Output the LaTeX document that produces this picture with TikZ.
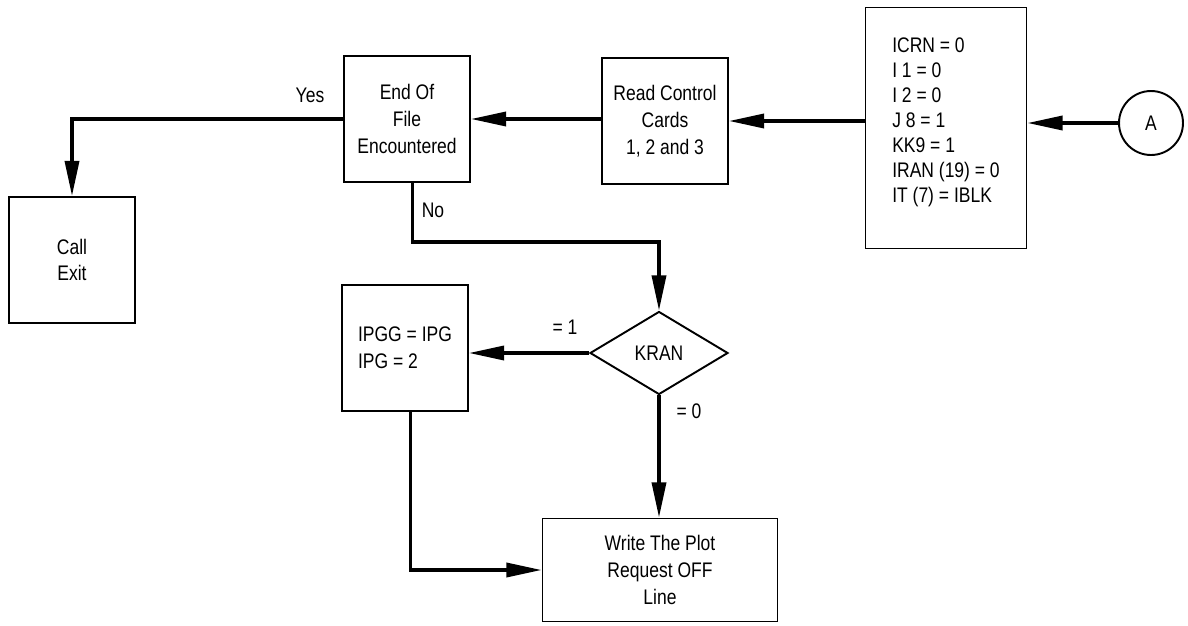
\documentclass[tikz,border=0pt]{standalone}
\usepackage{fontspec}
\setmainfont{Liberation Sans}[FakeStretch=0.83]
\usetikzlibrary{arrows.meta,positioning,shapes.geometric}

\begin{document}
\begin{tikzpicture}[
  x=0.02cm, y=-0.02cm,
  b/.style={draw, line width=1.1pt, align=center, minimum width=2.52cm, minimum height=2.52cm, inner sep=2pt, font=\fontsize{12}{15.2}\selectfont},
  e/.style={-{Triangle[length=20pt, width=8pt]}, line width=1.9pt},
  l/.style={font=\fontsize{12}{14}\selectfont, inner sep=1pt}
]
\useasboundingbox (0,0) rectangle (1188,626);

\node[b] (eof) at (407,119) {End Of\\File\\Encountered};
\node[b] (read) at (665,121) {Read Control\\Cards\\1, 2 and 3};
\node[b, minimum width=3.22cm, minimum height=4.82cm, align=left, font=\fontsize{12}{14.2}\selectfont] (init) at (946,128) {ICRN = 0\\I 1 = 0\\I 2 = 0\\J 8 = 1\\KK9 = 1\\IRAN (19) = 0\\IT (7) = IBLK\\[-5pt]};
\node[circle, draw, line width=1.1pt, minimum size=1.28cm, l] (a) at (1151,123) {A};

\node[b] (exit) at (72,260) {Call\\Exit};
\node[diamond, draw, line width=1.1pt, minimum width=2.76cm, minimum height=1.66cm, inner sep=0pt, l] (kran) at (659,353) {KRAN};
\node[b, align=left] (ipgg) at (405,348) {IPGG = IPG\\IPG = 2};
\node[b, minimum width=4.7cm, minimum height=2.06cm] (write) at (660,570) {Write The Plot\\Request OFF\\Line};

% branch labels
\node[l] (yes) at (310,95) {Yes};
\node[l] (no) at (433,210) {No};
\node[l] (one) at (565,327) {= 1};
\node[l] (zero) at (689,411) {= 0};

\draw[e] (a.west) -- (a -| init.east);
\draw[e] (read -| init.west) -- (read.east);
\draw[e] (read.west |- eof) -- (eof.east);
\draw[e] (eof.west) -| (exit.north);
\draw[e] ([xshift=3pt]eof.south) -- ++(0,59) -| (kran.north);
\draw[e] (kran.west) -- (kran -| ipgg.east);
\draw[e] (kran.south) -- (kran.south |- write.north);
\draw[e] ([xshift=3pt]ipgg.south) |- (write.west);
\end{tikzpicture}
\end{document}
